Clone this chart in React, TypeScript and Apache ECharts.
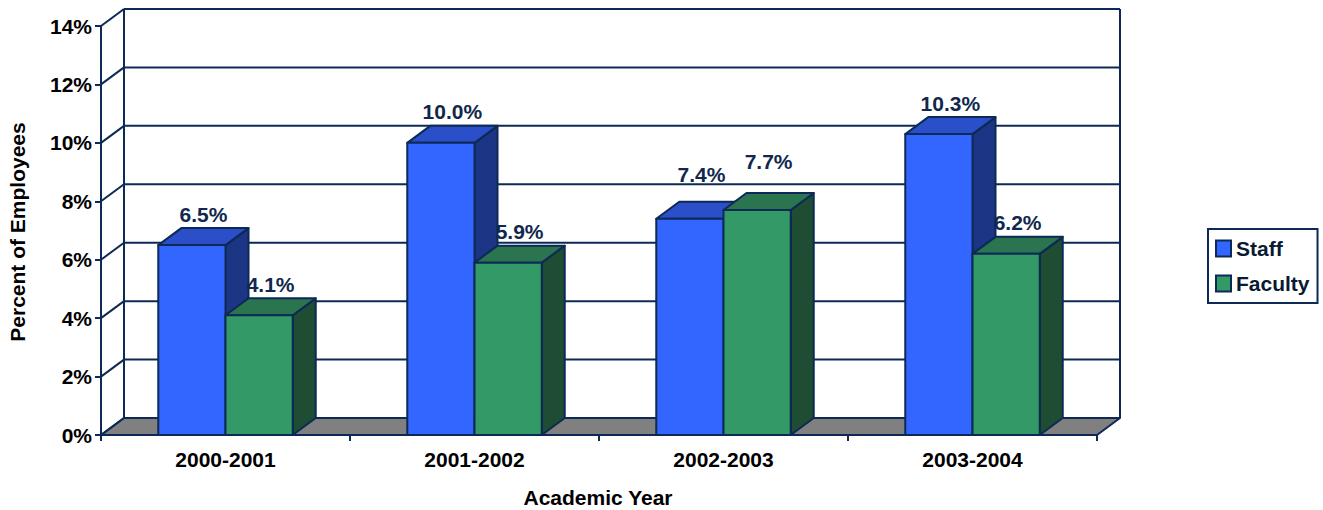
import React, { useEffect, useRef } from "react";
import * as echarts from "echarts";

// Annual rates (percent) by academic year
const categories = ["2000-2001", "2001-2002", "2002-2003", "2003-2004"];
const staffRates = [6.5, 10.0, 7.4, 10.3];
const facultyRates = [4.1, 5.9, 7.7, 6.2];
const valueTicks = [0, 2, 4, 6, 8, 10, 12, 14];

const NAVY = "#0c2a55";
const FONT = "'Liberation Sans', Arial, Helvetica, sans-serif";
// depth offset of the 3-D box (px)
const DX = 23;
const DY = -17;
// fraction of a category band taken by one bar
const BAR_FRACTION = 0.27;

// extra upward nudge for labels that would otherwise crowd each other
const staffLabelLift = [0, 0, 13, 0];
const facultyLabelLift = [0, 0, 18, 0];

const STAFF = { front: "#3366ff", top: "#2a4fc8", side: "#1c3585" };
const FACULTY = { front: "#339966", top: "#2a7450", side: "#1e4d34" };

const line = { stroke: NAVY, lineWidth: 2, lineJoin: "round" as const };

function frameRenderer(params: any, api: any) {
  const band = api.size([1, 0])[0];
  const left = api.coord([0, 0])[0] - band / 2;
  const right = api.coord([categories.length - 1, 0])[0] + band / 2;
  const yOf = (v: number) => api.coord([0, v])[1];
  const yMin = yOf(valueTicks[0]);
  const yMax = yOf(valueTicks[valueTicks.length - 1]);
  const children: any[] = [];

  // floor
  children.push({
    type: "polygon",
    shape: {
      points: [
        [left, yMin],
        [left + DX, yMin + DY],
        [right + DX, yMin + DY],
        [right, yMin],
      ],
    },
    style: { fill: "#808080", ...line },
  });

  // back wall gridlines and left wall diagonals
  valueTicks.forEach((v) => {
    const y = yOf(v);
    children.push({
      type: "line",
      shape: { x1: left + DX, y1: y + DY, x2: right + DX, y2: y + DY },
      style: { ...line, fill: null },
    });
    children.push({
      type: "line",
      shape: { x1: left, y1: y, x2: left + DX, y2: y + DY },
      style: { ...line, fill: null },
    });
  });

  // back wall edges
  children.push({
    type: "line",
    shape: { x1: left + DX, y1: yMax + DY, x2: left + DX, y2: yMin + DY },
    style: { ...line, fill: null },
  });
  children.push({
    type: "line",
    shape: { x1: right + DX, y1: yMax + DY, x2: right + DX, y2: yMin + DY },
    style: { ...line, fill: null },
  });

  return { type: "group", children };
}

function barRenderer(slot: number, colors: any, lifts: number[]) {
  return (params: any, api: any) => {
    const ci = api.value(0);
    const v = api.value(1);
    const base = api.coord([ci, 0]);
    const topP = api.coord([ci, v]);
    const band = api.size([1, 0])[0];
    const w = band * BAR_FRACTION;
    const x0 = slot === 0 ? base[0] - w : base[0];
    const x1 = x0 + w;
    const yb = base[1];
    const yt = topP[1];
    return {
      type: "group",
      children: [
        {
          type: "polygon",
          shape: {
            points: [
              [x1, yb],
              [x1 + DX, yb + DY],
              [x1 + DX, yt + DY],
              [x1, yt],
            ],
          },
          style: { fill: colors.side, ...line },
        },
        {
          type: "polygon",
          shape: {
            points: [
              [x0, yt],
              [x1, yt],
              [x1 + DX, yt + DY],
              [x0 + DX, yt + DY],
            ],
          },
          style: { fill: colors.top, ...line },
        },
        {
          type: "rect",
          shape: { x: x0, y: yt, width: w, height: yb - yt },
          style: { fill: colors.front, ...line },
        },
        {
          type: "text",
          x: (x0 + x1) / 2 + DX / 2,
          y: yt + DY - 14 - (lifts[params.dataIndex] || 0),
          style: {
            text: v.toFixed(1) + "%",
            font: `bold 21px ${FONT}`,
            fill: "#10284d",
            align: "center",
            verticalAlign: "middle",
          },
        },
      ],
    };
  };
}

export default function App() {
  const ref = useRef<HTMLDivElement>(null);

  useEffect(() => {
    if (!ref.current) return;
    const chart = echarts.init(ref.current, undefined, { renderer: "svg" });
    const axisText = { color: "#000", fontWeight: "bold" as const, fontFamily: FONT };

    chart.setOption({
      animation: false,
      backgroundColor: "#ffffff",
      grid: { left: 101, right: 226, top: 26, bottom: 75, containLabel: false },
      xAxis: {
        type: "category",
        data: categories,
        boundaryGap: true,
        axisLine: { show: true, lineStyle: { color: NAVY, width: 2 } },
        axisTick: { show: true, length: 6, lineStyle: { color: NAVY, width: 2 } },
        axisLabel: { ...axisText, fontSize: 21, margin: 14 },
        splitLine: { show: false },
      },
      yAxis: {
        type: "value",
        min: 0,
        max: 14,
        interval: 2,
        axisLine: { show: true, lineStyle: { color: NAVY, width: 2 } },
        axisTick: { show: true, length: 6, lineStyle: { color: NAVY, width: 2 } },
        axisLabel: { ...axisText, fontSize: 21, margin: 9, formatter: "{value}%" },
        splitLine: { show: false },
      },
      legend: {
        orient: "vertical",
        left: 1208,
        top: 229,
        padding: [9, 8, 9, 7],
        itemGap: 14,
        itemWidth: 15,
        itemHeight: 16,
        borderColor: NAVY,
        borderWidth: 2,
        textStyle: { fontSize: 21, fontWeight: "bold", color: "#0a1a33", fontFamily: FONT },
        data: [
          { name: "Staff", icon: "rect", itemStyle: { color: STAFF.front, borderColor: NAVY, borderWidth: 2 } },
          { name: "Faculty", icon: "rect", itemStyle: { color: FACULTY.front, borderColor: NAVY, borderWidth: 2 } },
        ],
      },
      graphic: [
        {
          type: "text",
          x: 17,
          y: 232,
          rotation: Math.PI / 2,
          style: {
            text: "Percent of Employees",
            font: `bold 21px ${FONT}`,
            fill: "#000",
            align: "center",
            verticalAlign: "middle",
          },
        },
        {
          type: "text",
          x: 598,
          y: 497,
          style: {
            text: "Academic Year",
            font: `bold 21px ${FONT}`,
            fill: "#000",
            align: "center",
            verticalAlign: "middle",
          },
        },
      ],
      series: [
        {
          type: "custom",
          name: "frame",
          z: 1,
          silent: true,
          renderItem: frameRenderer,
          data: [[0, 0]],
        },
        {
          type: "custom",
          name: "Staff",
          z: 2,
          itemStyle: { color: STAFF.front },
          renderItem: barRenderer(0, STAFF, staffLabelLift),
          data: staffRates.map((v, i) => [i, v]),
        },
        {
          type: "custom",
          name: "Faculty",
          z: 3,
          itemStyle: { color: FACULTY.front },
          renderItem: barRenderer(1, FACULTY, facultyLabelLift),
          data: facultyRates.map((v, i) => [i, v]),
        },
      ],
    });

    return () => chart.dispose();
  }, []);

  return (
    <div
      ref={ref}
      style={{ position: "absolute", left: 0, top: 0, width: 1323, height: 510 }}
    />
  );
}
